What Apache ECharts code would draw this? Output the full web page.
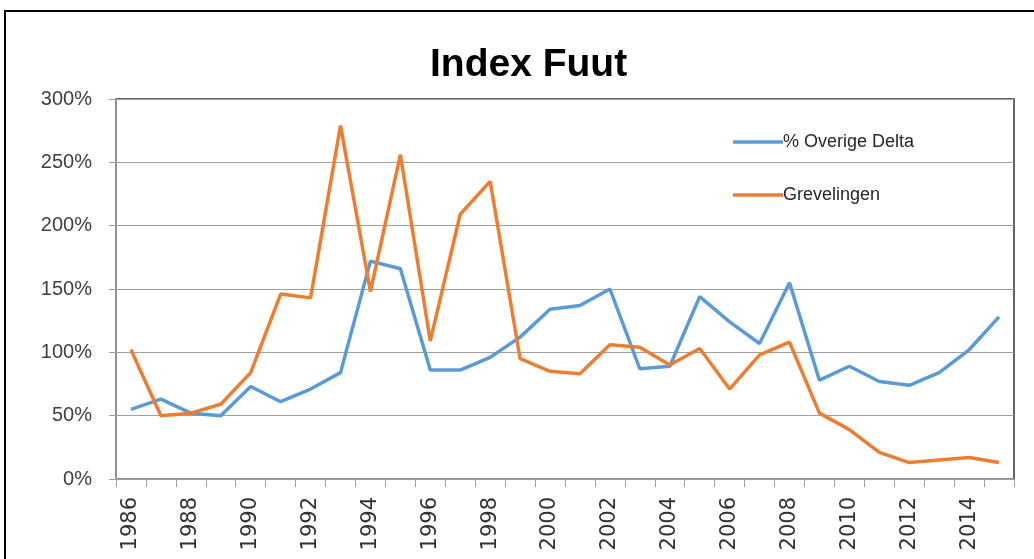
<!DOCTYPE html>
<html>
<head>
<meta charset="utf-8">
<script src="https://cdn.jsdelivr.net/npm/echarts@6/dist/echarts.min.js"></script>
<style>
html,body{margin:0;padding:0;background:#fff;}
#chart{width:1034px;height:559px;}
</style>
</head>
<body>
<div id="chart"></div>
<script>
const years = ['1986','1987','1988','1989','1990','1991','1992','1993','1994','1995','1996','1997','1998','1999','2000','2001','2002','2003','2004','2005','2006','2007','2008','2009','2010','2011','2012','2013','2014','2015'];
const overigeDelta = [55,63,52,50,73,61,71,84,172,166,86,86,96,112,134,137,150,87,89,144,124,107,155,78,89,77,74,84,102,128];
const grevelingen = [102,50,52,59,84,146,143,279,148,256,109,209,235,95,85,83,106,104,90,103,71,98,108,52,39,21,13,15,17,13];
const yTicks = [0,50,100,150,200,250,300];

const chart = echarts.init(document.getElementById('chart'));
chart.setOption({
  animation:false,
  backgroundColor:'#ffffff',
  title:{
    text:'Index Fuut',
    left:425,
    top:41,
    textStyle:{fontFamily:'Liberation Sans',fontWeight:'bold',fontSize:39,color:'#000'}
  },
  graphic:[{
    type:'rect',
    shape:{x:5,y:11,width:1200,height:700},
    style:{fill:'none',stroke:'#000',lineWidth:2},
    silent:true
  }],
  legend:{
    orient:'vertical',
    left:728,
    top:127,
    icon:'rect',
    itemWidth:50,
    itemHeight:3.5,
    itemGap:33,
    textStyle:{fontFamily:'Liberation Sans',fontSize:18,lineHeight:20,color:'#262626',padding:[0,0,0,-5]},
    data:['% Overige Delta','Grevelingen']
  },
  grid:{
    left:116,right:20,top:99,bottom:80,
    show:true,borderColor:'#333',borderWidth:1.5,backgroundColor:'transparent'
  },
  xAxis:{
    type:'category',
    data:years,
    boundaryGap:true,
    axisLine:{lineStyle:{color:'#a0a0a0',width:1.5}},
    axisTick:{show:true,interval:0,length:8,lineStyle:{color:'#a0a0a0'}},
    axisLabel:{interval:1,rotate:90,fontFamily:'DejaVu Sans',fontSize:21,color:'#333',margin:18}
  },
  yAxis:{
    type:'value',
    min:0,max:300,interval:50,
    axisLine:{show:true,lineStyle:{color:'#a0a0a0',width:1.5}},
    axisTick:{show:true,length:7,lineStyle:{color:'#a0a0a0'}},
    splitLine:{show:true,lineStyle:{color:'#a0a0a0',width:1.2}},
    axisLabel:{
      formatter:function(v){return yTicks.indexOf(v)>=0 ? v+'%' : '';},
      fontFamily:'Liberation Sans',fontSize:20,color:'#404040',margin:24
    }
  },
  series:[
    {name:'% Overige Delta',type:'line',data:overigeDelta,symbol:'none',
     lineStyle:{color:'#5B9BD5',width:3.5},itemStyle:{color:'#5B9BD5'}},
    {name:'Grevelingen',type:'line',data:grevelingen,symbol:'none',
     lineStyle:{color:'#ED7D31',width:3.5},itemStyle:{color:'#ED7D31'}}
  ]
});
</script>
</body>
</html>
